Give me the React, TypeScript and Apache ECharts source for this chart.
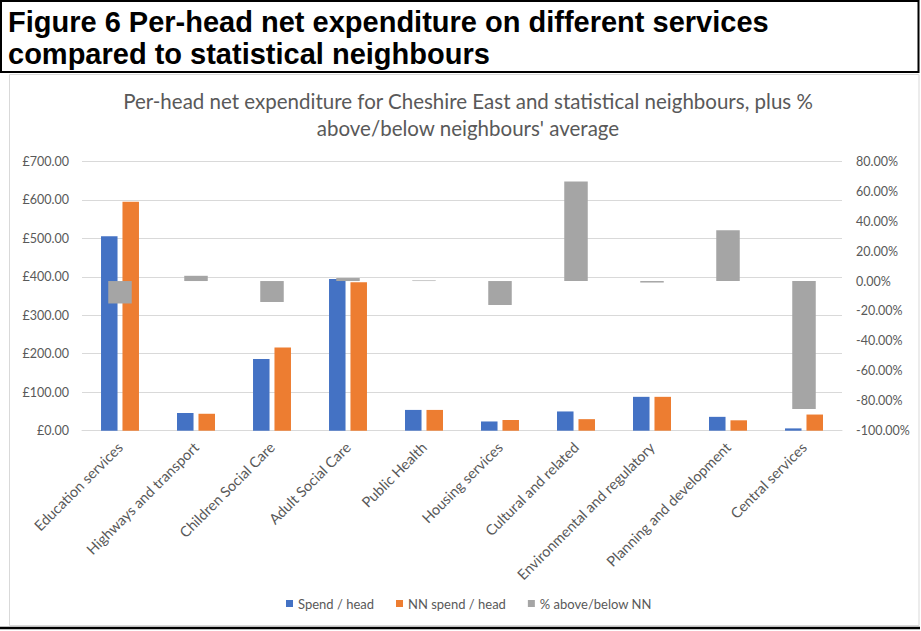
import React, { useEffect, useRef } from "react";
import * as echarts from "echarts";

const categories = [
  "Education services",
  "Highways and transport",
  "Children Social Care",
  "Adult Social Care",
  "Public Health",
  "Housing services",
  "Cultural and related",
  "Environmental and regulatory",
  "Planning and development",
  "Central services",
];
const spendPerHead = [505, 46, 186, 394, 54, 24, 50, 88, 36, 6];
const nnSpendPerHead = [595, 44, 216, 386, 54, 28, 30, 88, 27, 42];
const pctAboveBelow = [-0.15, 0.035, -0.14, 0.02, 0.004, -0.16, 0.665, -0.01, 0.34, -0.855];
const seriesNames = ["Spend / head", "NN spend / head", "% above/below NN"];

const FONT = "Lato, 'Open Sans', sans-serif";
const GREY_TEXT = "#595959";

export default function App() {
  const ref = useRef<HTMLDivElement>(null);
  useEffect(() => {
    if (!ref.current) return;
    const chart = echarts.init(ref.current, undefined, { renderer: "svg" });
    chart.setOption({
      animation: false,
      backgroundColor: "#ffffff",
      title: {
        text: "Per-head net expenditure for Cheshire East and statistical neighbours, plus %\nabove/below neighbours' average",
        left: 463,
        textAlign: "center",
        top: 82,
        textStyle: {
          fontFamily: FONT,
          fontSize: 20.5,
          fontWeight: "normal",
          color: GREY_TEXT,
          lineHeight: 27,
        },
      },
      legend: {
        top: 592,
        left: 281,
        itemWidth: 7,
        itemHeight: 7,
        itemGap: 22,
        icon: "rect",
        textStyle: { fontFamily: FONT, fontSize: 13, color: GREY_TEXT },
        data: seriesNames,
      },
      grid: { left: 82, right: 79, top: 161.3, bottom: 200.3, containLabel: false },
      xAxis: [
        {
          type: "category",
          data: categories,
          axisLine: { lineStyle: { color: "#d9d9d9" } },
          axisTick: { show: false },
          axisLabel: {
            rotate: 45,
            interval: 0,
            margin: 14,
            fontFamily: FONT,
            fontSize: 14.5,
            color: GREY_TEXT,
          },
        },
        {
          type: "category",
          data: categories,
          show: false,
        },
      ],
      yAxis: [
        {
          type: "value",
          min: 0,
          max: 700,
          interval: 100,
          axisLine: { show: false },
          axisTick: { show: false },
          splitLine: { lineStyle: { color: "#d9d9d9" } },
          axisLabel: {
            margin: 13,
            fontFamily: FONT,
            fontSize: 12.5,
            color: GREY_TEXT,
            formatter: (v: number) => "£" + v.toFixed(2),
          },
        },
        {
          type: "value",
          min: -1,
          max: 0.8,
          interval: 0.2,
          axisLine: { show: false },
          axisTick: { show: false },
          splitLine: { show: false },
          axisLabel: {
            margin: 14,
            fontFamily: FONT,
            fontSize: 12.5,
            color: GREY_TEXT,
            formatter: (v: number) => {
              const p = Math.round(v * 100);
              return (p === 0 ? 0 : p).toFixed(2) + "%";
            },
          },
        },
      ],
      series: [
        {
          name: seriesNames[0],
          type: "bar",
          data: spendPerHead,
          barWidth: 16.5,
          barGap: "30%",
          itemStyle: { color: "#4472C4" },
          z: 2,
        },
        {
          name: seriesNames[1],
          type: "bar",
          data: nnSpendPerHead,
          barWidth: 16.5,
          barGap: "30%",
          itemStyle: { color: "#ED7D31" },
          z: 2,
        },
        {
          name: seriesNames[2],
          type: "bar",
          xAxisIndex: 1,
          yAxisIndex: 1,
          data: pctAboveBelow,
          barWidth: 23.5,
          itemStyle: { color: "#A5A5A5" },
          z: 3,
        },
      ],
      graphic: [
        {
          type: "rect",
          shape: { x: 1, y: 1, width: 917.5, height: 71 },
          style: { fill: "none", stroke: "#000", lineWidth: 2 },
          silent: true,
        },
        {
          type: "rect",
          shape: { x: 9.5, y: 74.5, width: 909.5, height: 551 },
          style: { fill: "none", stroke: "#d9d9d9", lineWidth: 1 },
          silent: true,
        },
        {
          type: "line",
          shape: { x1: 0, y1: 628, x2: 920, y2: 628 },
          style: { stroke: "#000", lineWidth: 2.5 },
          silent: true,
        },
        {
          type: "text",
          x: 8,
          y: 6,
          style: {
            text: "Figure 6 Per-head net expenditure on different services\ncompared to statistical neighbours",
            font: "bold 29px 'Liberation Sans', Arial, sans-serif",
            lineHeight: 32,
            fill: "#000",
          },
          silent: true,
        },
      ],
    });
    return () => chart.dispose();
  }, []);
  return (
    <div
      ref={ref}
      style={{ position: "fixed", left: 0, top: 0, width: 921, height: 631 }}
    />
  );
}
